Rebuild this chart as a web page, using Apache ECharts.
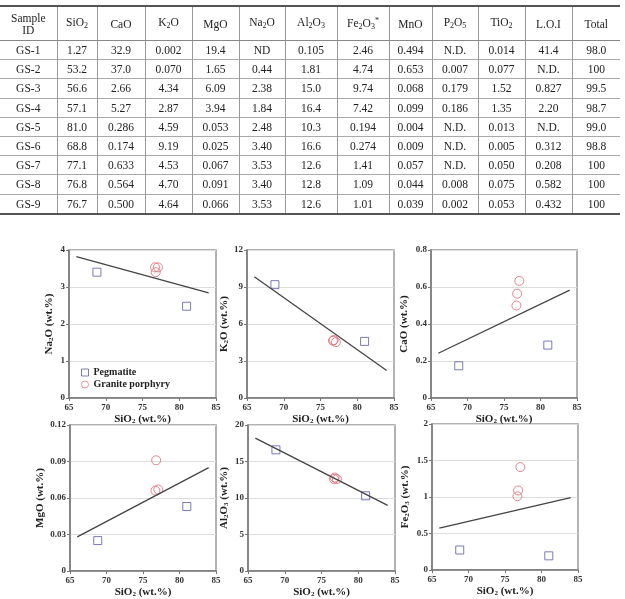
<!DOCTYPE html>
<html>
<head>
<meta charset="utf-8">
<script src="https://cdn.jsdelivr.net/npm/echarts@6/dist/echarts.min.js"></script>
<style>
  html, body { margin: 0; padding: 0; background: #fff; }
  #chart { position: absolute; left: 0; top: 0; width: 625px; height: 599px; }
  #tbl {
    position: absolute; left: 0; top: 5px; width: 620px;
    border-collapse: collapse; table-layout: fixed;
    font-family: "Liberation Serif", serif; font-size: 11.5px; color: #222;
    border-top: 2px solid #555; border-bottom: 2px solid #555;
  }
  #tbl td, #tbl th {
    font-weight: normal; text-align: center; padding: 0; height: 18.2px;
    border-left: 1px solid #999; border-top: 1px solid #aaa; line-height: 12px;
  }
  #tbl th { height: 33px; border-top: none; border-bottom: 1px solid #888; }
  #tbl tr > :first-child { border-left: none; }
  #tbl sub { font-size: 8px; vertical-align: -2px; }
  #tbl sup { font-size: 8px; vertical-align: 4px; }
</style>
</head>
<body>
<div id="chart"></div>
<table id="tbl"><colgroup id="cols"></colgroup><thead><tr id="head"></tr></thead><tbody id="body"></tbody></table>
<script>
// 表格数据（按列）
const sampleIds = ['GS-1', 'GS-2', 'GS-3', 'GS-4', 'GS-5', 'GS-6', 'GS-7', 'GS-8', 'GS-9']
const colSiO2 = ['1.27', '53.2', '56.6', '57.1', '81.0', '68.8', '77.1', '76.8', '76.7']
const colCaO = ['32.9', '37.0', '2.66', '5.27', '0.286', '0.174', '0.633', '0.564', '0.500']
const colK2O = ['0.002', '0.070', '4.34', '2.87', '4.59', '9.19', '4.53', '4.70', '4.64']
const colMgO = ['19.4', '1.65', '6.09', '3.94', '0.053', '0.025', '0.067', '0.091', '0.066']
const colNa2O = ['ND', '0.44', '2.38', '1.84', '2.48', '3.40', '3.53', '3.40', '3.53']
const colAl2O3 = ['0.105', '1.81', '15.0', '16.4', '10.3', '16.6', '12.6', '12.8', '12.6']
const colFe2O3 = ['2.46', '4.74', '9.74', '7.42', '0.194', '0.274', '1.41', '1.09', '1.01']
const colMnO = ['0.494', '0.653', '0.068', '0.099', '0.004', '0.009', '0.057', '0.044', '0.039']
const colP2O5 = ['N.D.', '0.007', '0.179', '0.186', 'N.D.', 'N.D.', 'N.D.', '0.008', '0.002']
const colTiO2 = ['0.014', '0.077', '1.52', '1.35', '0.013', '0.005', '0.050', '0.075', '0.053']
const colLOI = ['41.4', 'N.D.', '0.827', '2.20', 'N.D.', '0.312', '0.208', '0.582', '0.432']
const colTotal = ['98.0', '100', '99.5', '98.7', '99.0', '98.8', '100', '100', '100']
const headers = ['Sample<br>ID', 'SiO<sub>2</sub>', 'CaO', 'K<sub>2</sub>O', 'MgO', 'Na<sub>2</sub>O', 'Al<sub>2</sub>O<sub>3</sub>',
  'Fe<sub>2</sub>O<sub>3</sub><sup>*</sup>', 'MnO', 'P<sub>2</sub>O<sub>5</sub>', 'TiO<sub>2</sub>', 'L.O.I', 'Total']
const colWidths = [57, 40, 48, 47, 47, 46, 52, 52, 43, 46, 47, 47, 48]

// 样品分组（行号）
const pegmatiteRows = [4, 5]
const graniteRows = [6, 7, 8]

// 趋势线端点
const trendNa2O = [[66, 3.82], [84, 2.84]]
const trendK2O = [[66, 9.83], [84, 2.23]]
const trendCaO = [[66, 0.242], [84, 0.583]]
const trendMgO = [[66, 0.028], [84, 0.085]]
const trendAl2O3 = [[66, 18.2], [84, 9.0]]
const trendFe2O3 = [[66, 0.575], [84, 0.99]]

// 表格
const columns = [sampleIds, colSiO2, colCaO, colK2O, colMgO, colNa2O, colAl2O3, colFe2O3, colMnO, colP2O5, colTiO2, colLOI, colTotal]
document.getElementById('cols').innerHTML = colWidths.map(w => '<col style="width:' + w + 'px">').join('')
document.getElementById('head').innerHTML = headers.map(h => '<th>' + h + '</th>').join('')
document.getElementById('body').innerHTML = sampleIds.map((id, r) =>
  '<tr>' + columns.map(c => '<td>' + c[r] + '</td>').join('') + '</tr>').join('')

// 图表
const font = 'Liberation Serif'
const subRich = { s: { fontSize: 7, fontWeight: 'bold', fontFamily: font, padding: [5, 0, 0, 0] } }
const panels = [
  { name: 'Na{s|2}O (wt.%)', col: colNa2O, max: 4, interval: 1, trend: trendNa2O, gap: 14, grid: { left: 69, top: 250, width: 147, height: 148 } },
  { name: 'K{s|2}O (wt.%)', col: colK2O, max: 12, interval: 3, trend: trendK2O, gap: 14, grid: { left: 247, top: 250, width: 147, height: 148 } },
  { name: 'CaO (wt.%)', col: colCaO, max: 0.8, interval: 0.2, trend: trendCaO, gap: 21, grid: { left: 431, top: 250, width: 146, height: 148 } },
  { name: 'MgO (wt.%)', col: colMgO, max: 0.12, interval: 0.03, trend: trendMgO, gap: 24, grid: { left: 70, top: 425, width: 146, height: 147 } },
  { name: 'Al{s|2}O{s|3} (wt.%)', col: colAl2O3, max: 20, interval: 5, trend: trendAl2O3, gap: 18, grid: { left: 248, top: 425, width: 147, height: 147 } },
  { name: 'Fe{s|2}O{s|3} (wt.%)', col: colFe2O3, max: 2, interval: 0.5, trend: trendFe2O3, gap: 21, grid: { left: 432, top: 424, width: 146, height: 146 } }
]

const pts = (col, rows) => rows.map(r => [Number(colSiO2[r]), Number(col[r])])
const axisLine = { lineStyle: { color: '#777', width: 1.5 } }
const tickLabel = { fontFamily: font, fontWeight: 'bold', fontSize: 9, color: '#333' }

let option = {
  animation: false,
  grid: panels.map(p => Object.assign({ show: true, borderColor: '#999', borderWidth: 1.5, backgroundColor: 'transparent' }, p.grid)),
  legend: {
    data: [
      { name: 'Pegmatite', icon: 'rect', itemStyle: { color: 'transparent', borderColor: '#5a5aa8', borderWidth: 1 } },
      { name: 'Granite porphyry', icon: 'circle', itemStyle: { color: 'transparent', borderColor: '#e07a82', borderWidth: 1 } }
    ],
    orient: 'vertical',
    left: 76,
    top: 362,
    itemWidth: 7,
    itemHeight: 7,
    itemGap: 1,
    textStyle: { fontFamily: font, fontWeight: 'bold', fontSize: 10, color: '#222', lineHeight: 11 }
  },
  xAxis: panels.map((p, i) => ({
    gridIndex: i,
    type: 'value',
    min: 65,
    max: 85,
    interval: 5,
    name: 'SiO{s|2} (wt.%)',
    nameLocation: 'middle',
    nameGap: 15,
    nameTextStyle: { fontFamily: font, fontWeight: 'bold', fontSize: 11, color: '#222', verticalAlign: 'top', rich: subRich },
    axisLine: axisLine,
    axisTick: { show: true, length: 3, lineStyle: { color: '#777' } },
    axisLabel: Object.assign({ margin: 5 }, tickLabel),
    splitLine: { show: false }
  })),
  yAxis: panels.map((p, i) => ({
    gridIndex: i,
    type: 'value',
    min: 0,
    max: p.max,
    interval: p.interval,
    name: p.name,
    nameLocation: 'middle',
    nameRotate: 90,
    nameGap: p.gap,
    nameTextStyle: { fontFamily: font, fontWeight: 'bold', fontSize: 11, color: '#222', rich: subRich },
    axisLine: axisLine,
    axisTick: { show: true, length: 3, lineStyle: { color: '#777' } },
    axisLabel: Object.assign({ margin: 4 }, tickLabel),
    splitLine: { show: true, lineStyle: { color: '#ddd', width: 1 } }
  })),
  series: []
}

panels.forEach((p, i) => {
  option.series.push({
    type: 'line',
    xAxisIndex: i,
    yAxisIndex: i,
    data: p.trend,
    symbol: 'none',
    silent: true,
    lineStyle: { color: '#444', width: 1.3 }
  })
  option.series.push({
    name: 'Pegmatite',
    type: 'scatter',
    xAxisIndex: i,
    yAxisIndex: i,
    symbol: 'rect',
    symbolSize: 8,
    data: pts(p.col, pegmatiteRows),
    itemStyle: { color: 'transparent', borderColor: '#5a5aa8', borderWidth: 1 }
  })
  option.series.push({
    name: 'Granite porphyry',
    type: 'scatter',
    xAxisIndex: i,
    yAxisIndex: i,
    symbol: 'circle',
    symbolSize: 9,
    data: pts(p.col, graniteRows),
    itemStyle: { color: 'transparent', borderColor: '#dc6670', borderWidth: 1 }
  })
})

let myChart = echarts.init(document.getElementById('chart'))
myChart.setOption(option)
</script>
</body>
</html>
